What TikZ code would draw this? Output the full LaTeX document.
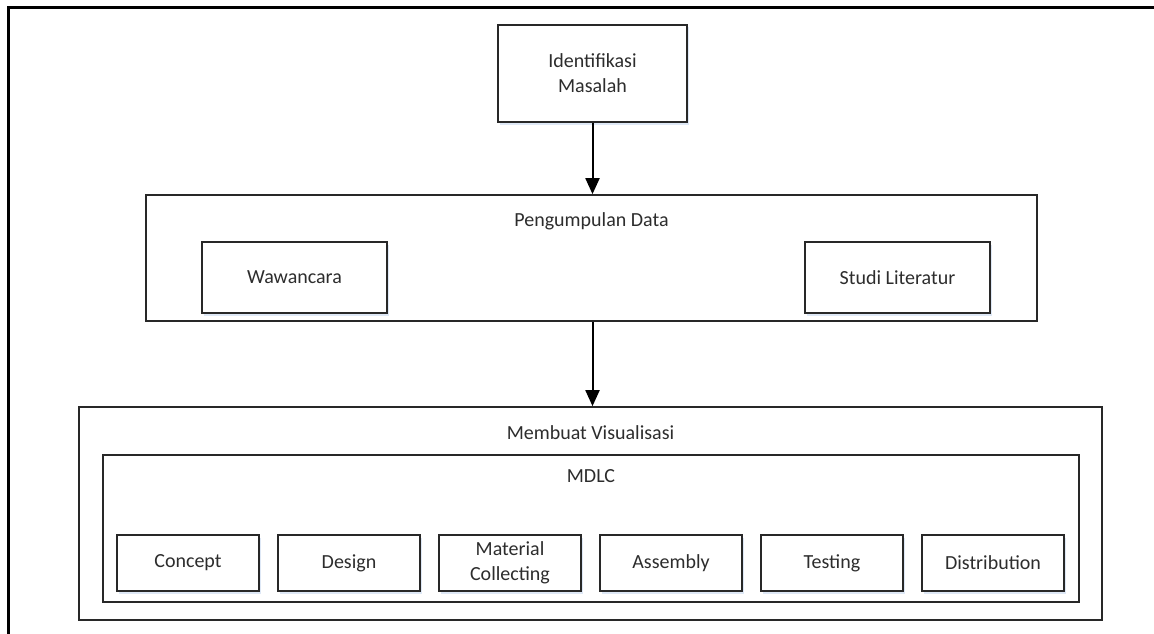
\documentclass[tikz,border=0pt]{standalone}
\usepackage{fontspec}
\setmainfont{Carlito}
\usetikzlibrary{arrows.meta,shadows}
\definecolor{boxline}{RGB}{40,40,40}
\definecolor{txt}{RGB}{45,45,45}
\definecolor{shad}{RGB}{222,232,246}
\tikzset{
  box/.style={draw=boxline, line width=1.7pt, fill=white, inner sep=0pt, align=center,
    font=\fontsize{20}{25}\selectfont, text=txt,
    drop shadow={shadow xshift=1.5pt, shadow yshift=-2.5pt, fill=shad, opacity=1}},
  container/.style={draw=boxline, line width=1.7pt, fill=white, inner sep=0pt},
  title/.style={font=\fontsize{20}{25}\selectfont, text=txt, inner sep=0pt},
  arr/.style={line width=2pt, draw=black, -{Triangle[length=16pt,width=14pt]}}
}
\begin{document}
\begin{tikzpicture}[x=1pt,y=-1pt]
\useasboundingbox (0,0) rectangle (1154,634);
\draw[line width=3pt, line cap=rect] (8,640) -- (8,7.5) -- (1160,7.5);

\node[box, minimum width=189pt, minimum height=97pt] (im) at (592.5,73.5) {Identifikasi\\Masalah};

\node[container, minimum width=891pt, minimum height=126pt] (pd) at (591.5,258) {};
\node[title] (pdt) at (591.5,221) {Pengumpulan Data};
\node[box, minimum width=185pt, minimum height=71pt] (ww) at (294.5,277.5) {Wawancara};
\node[box, minimum width=185pt, minimum height=71pt] (sl) at (897.5,277.5) {Studi Literatur};

\node[container, minimum width=1023pt, minimum height=213pt] (mv) at (590.5,513.5) {};
\node[title] (mvt) at (590.5,433) {Membuat Visualisasi};
\node[container, minimum width=976pt, minimum height=147pt] (md) at (591,528.5) {};
\node[title] (mdt) at (591,476) {MDLC};

\foreach \n/\x/\t in {c1/188/Concept, c2/349/Design, c3/510/{Material\\Collecting}, c4/671/Assembly, c5/832/Testing, c6/993/Distribution}
  \node[box, minimum width=142pt, minimum height=56pt] (\n) at (\x,563) {\t};

\draw[arr] (im.south) -- (pd.north -| im.south);
\draw[arr] (pd.south -| im.south) -- (mv.north -| im.south);
\end{tikzpicture}
\end{document}
